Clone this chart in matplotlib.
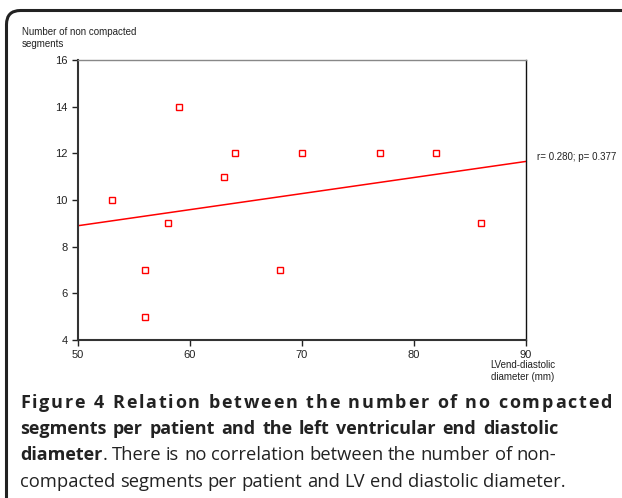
import numpy as np
import matplotlib.pyplot as plt
from matplotlib.patches import FancyBboxPatch
from matplotlib.transforms import IdentityTransform
from matplotlib.font_manager import FontProperties, findfont, get_font

# 左心室拡張末期径 (mm) と非緻密化セグメント数
lvedd = [53, 56, 56, 58, 59, 63, 64, 68, 70, 77, 82, 86]
segments = [10, 7, 5, 9, 14, 11, 12, 7, 12, 12, 12, 9]
x_ticks = [50, 60, 70, 80, 90]
y_ticks = [4, 6, 8, 10, 12, 14, 16]
stat_label = "r= 0.280; p= 0.377"

W, H = 622, 498
fig = plt.figure(figsize=(W / 100, H / 100), dpi=100)

# 外枠 (角丸)
frame = FancyBboxPatch((6.5, -40), 700, H - 10.5 + 40,
                       boxstyle="round,pad=0,rounding_size=14",
                       transform=IdentityTransform(), fill=False,
                       ec="#222222", lw=2.2)
fig.patches.append(frame)

ax = fig.add_axes([78 / W, 1 - 340 / H, (526 - 78) / W, (340 - 60) / H])
ax.plot(lvedd, segments, 's', ms=4.3, mfc='white', mec='red', mew=1.0,
        linestyle='none')

# 回帰直線
slope, icpt = np.polyfit(lvedd, segments, 1)
xl = np.array([50, 90])
ax.plot(xl, slope * xl + icpt, color='red', lw=1.1)

ax.set_xlim(50, 90)
ax.set_ylim(4, 16)
ax.set_xticks(x_ticks)
ax.set_yticks(y_ticks)
ax.tick_params(direction='out', length=4, width=1, labelsize=8.0,
               colors='#222222', pad=3.5)
for s in ['left', 'bottom']:
    ax.spines[s].set_linewidth(1.5)
    ax.spines[s].set_color('#333333')
ax.spines['top'].set_color('#888888')
ax.spines['top'].set_linewidth(1)
ax.spines['right'].set_color('#111111')
ax.spines['right'].set_linewidth(1)
for lab in ax.get_xticklabels() + ax.get_yticklabels():
    lab.set_family('Liberation Sans')

small = dict(family='Liberation Sans', fontsize=7.0, color='#222222')
fig.text(22 / W, 1 - 27 / H, "Number of non compacted\nsegments", va='top',
         ha='left', linespacing=1.2, **small)
fig.text(537 / W, 1 - 157 / H, stat_label, va='center', ha='left', **small)
fig.text(523 / W, 1 - 360 / H, "LVend-diastolic\ndiameter (mm)", va='top',
         ha='center', linespacing=1.2, **small)

# キャプション (両端揃え)
renderer = fig.canvas.get_renderer()
FS_B, FS_R = 13.0, 13.2


def style(bold):
    return dict(family='Open Sans', fontsize=FS_B if bold else FS_R,
                fontweight='bold' if bold else 'normal', color='#222222')


def width(s, bold):
    t = fig.text(0, 0, s, **style(bold))
    w = t.get_window_extent(renderer).width
    t.remove()
    return w


def space(bold):
    return width("a a", bold) - width("aa", bold)


def put(s, x, y, bold):
    fig.text(x / W, 1 - y / H, s, va='baseline', ha='left', **style(bold))


def line_words(tokens, x0, y, x1=None):
    # tokens: 単語ごとに [(text, bold), ...]
    ws = [sum(width(s, b) for s, b in tok) for tok in tokens]
    sp = space(tokens[-1][-1][1])
    gap = sp if x1 is None else (x1 - x0 - sum(ws)) / (len(tokens) - 1)
    x = x0
    for tok, w in zip(tokens, ws):
        xx = x
        for s, b in tok:
            put(s, xx, y, b)
            xx += width(s, b)
        x += w + gap


def line_chars(text, x0, y, x1, bold):
    # 字間を広げて両端揃え (送り幅はフォントから取る)
    st = style(bold)
    fp = FontProperties(family=st['family'], weight=st['fontweight'])
    font = get_font(findfont(fp))
    font.set_size(st['fontsize'], 100)
    adv = [font.load_char(ord(c)).linearHoriAdvance / 65536 for c in text]
    tr = (x1 - x0 - sum(adv[:-1]) - width(text[-1], bold)) / (len(text) - 1)
    x = x0
    for c, a in zip(text, adv):
        if c != " ":
            put(c, x, y, bold)
        x += a + tr


def simple(text, bold):
    return [[(w, bold)] for w in text.split()]


line_chars("Figure 4 Relation between the number of no compacted",
           20, 407.5, 612, True)
line_words(simple("segments per patient and the left ventricular end diastolic",
                  True), 20, 434, 558)
line_words([[("diameter", True), (".", False)]]
           + simple("There is no correlation between the number of non-", False),
           20, 460.5, 556)
line_words(simple("compacted segments per patient and LV end diastolic diameter.",
                  False), 20, 487)

fig.savefig("out.png", dpi=100)
